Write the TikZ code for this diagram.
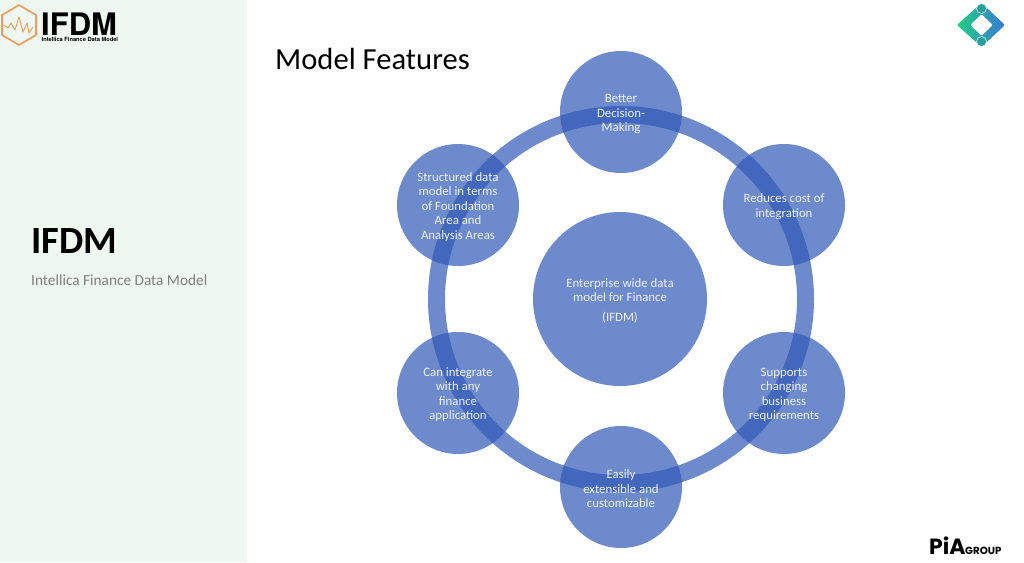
\documentclass[tikz,border=0pt]{standalone}
\usepackage{fontspec}
\setmainfont{Carlito}
\newfontfamily\logofont{Poppins}
\newfontfamily\headfont{TeX Gyre Heros}
\usetikzlibrary{shadings}
\definecolor{panelgreen}{HTML}{EEF8F1}
\definecolor{featblue}{HTML}{3059B7}
\definecolor{greytext}{HTML}{7F7F7F}
\definecolor{hexorange}{HTML}{F4975A}
\definecolor{diagreen}{HTML}{1FD07F}
\definecolor{diablue}{HTML}{3A78D8}
\definecolor{diateal}{HTML}{2A9DA0}
\newcommand{\featstrut}{\rule{0pt}{12.5pt}}
\tikzset{
	feat/.style={circle,fill=featblue,fill opacity=.7,text opacity=1,text=white!92!featblue,minimum size=122pt,inner sep=0pt,align=center,font=\fontsize{12.8}{14.5}\selectfont},
}
\begin{document}
\begin{tikzpicture}[x=1pt,y=-1pt]
	\useasboundingbox (0,0) rectangle (1024,562);
	\fill[white] (0,0) rectangle (1024,562);
	\fill[panelgreen] (0,0) rectangle (247,562);
	% left panel
	\node (side) [anchor=west,inner sep=0pt,font=\fontsize{38.5}{38.5}\selectfont\bfseries] at (31,241) {IFDM};
	\node (sub) [anchor=west,inner sep=0pt,text=greytext,font=\fontsize{15.3}{15.3}\selectfont] at (31,280) {Intellica Finance Data Model};
	\node (title) [anchor=west,inner sep=0pt,font=\fontsize{30.6}{31}\selectfont] at (275,59) {Model Features};
	% logo top left
	\draw[hexorange,line width=1.6pt,line join=round] (19,5) -- (36,15) -- (36,35) -- (19,45) -- (2,35) -- (2,15) -- cycle;
	\draw[hexorange,line width=.9pt,line join=round] (4,25) -- (8,28) -- (11,23) -- (15,30) -- (19,17) -- (23,32) -- (27,23) -- (29,33) -- (33,27);
	\node (logo) [anchor=base west,inner sep=0pt,text depth=0pt,font=\headfont\fontsize{31}{31}\selectfont\bfseries] at (41,35) {IFDM};
	\node (logosub) [anchor=base west,inner sep=0pt,text height=4pt,font=\headfont\fontsize{5.7}{6}\selectfont\bfseries] at (41.5,41) {Intellica Finance Data Model};
	% logo top right
	\shade[left color=diagreen,right color=diablue,even odd rule,rounded corners=2pt] (957,25) -- (981.5,3) -- (1005,25) -- (981.5,47) -- cycle (970,25) -- (981.5,14) -- (993,25) -- (981.5,36) -- cycle;
	\draw[white,fill=diateal,line width=.5pt] (981.5,8.5) circle (5pt) (981.5,41.5) circle (5pt);
	% logo bottom right
	\node (pia) [anchor=base west,inner sep=0pt,font=\logofont\fontsize{22}{22}\selectfont\bfseries] at (929,554) {PiA};
	\node (group) [anchor=base west,inner sep=0pt,font=\logofont\fontsize{10.3}{10}\selectfont\bfseries] at (965,554) {GROUP};
	% ring and circles
	\draw[featblue,opacity=.7,line width=17pt] (621,299) circle (184.5pt);
	\node (centre) [feat,minimum size=174pt] at (620,299) {\featstrut Enterprise wide data\\model for Finance\\[5pt](IFDM)};
	\node (topc) [feat] at (621,112) {\featstrut Better\\Decision-\\Making};
	\node (rtop) [feat] at (784,205) {\featstrut Reduces cost of\\integration};
	\node (rbot) [feat] at (784,393) {\featstrut Supports\\changing\\business\\requirements};
	\node (botc) [feat] at (621,487) {\featstrut Easily\\extensible and\\customizable};
	\node (lbot) [feat] at (458,393) {\featstrut Can integrate\\with any\\finance\\application};
	\node (ltop) [feat] at (458,205) {\featstrut Structured data\\model in terms\\of Foundation\\Area and\\Analysis Areas};
\end{tikzpicture}
\end{document}
